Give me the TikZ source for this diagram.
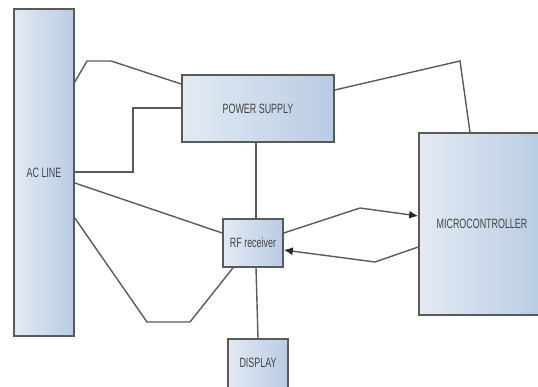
\documentclass[tikz,border=0pt]{standalone}
\usepackage{fontspec}
\setmainfont{Liberation Sans}[FakeStretch=0.66]
\usetikzlibrary{arrows.meta}
\definecolor{boxlight}{HTML}{E3EAF4}
\definecolor{boxdark}{HTML}{B9CCE3}
\definecolor{linegray}{HTML}{5A5A5A}
\definecolor{textgray}{HTML}{424242}

\begin{document}
\begin{tikzpicture}[x=1pt,y=-1pt,
    blk/.style={draw=linegray, line width=1.6pt, left color=boxlight, right color=boxdark,
      font=\fontsize{13.5}{15}\selectfont, text=textgray, inner sep=0pt},
    wire/.style={draw=linegray, line width=1.4pt},
    sig/.style={wire, -{Latex[length=9pt,width=8pt,color=black!85]}}]
            \useasboundingbox (0,0) rectangle (538,387);
            % blocks
            \node[blk, minimum width=60, minimum height=327] (ac) at (44,172.5) {AC LINE};
            \node[blk, minimum width=152, minimum height=67] (ps) at (258,108.5) {POWER SUPPLY};
            \node[blk, minimum width=126, minimum height=182] (mc) at (482,224) {MICROCONTROLLER};
            \node[blk, minimum width=60, minimum height=48] (rf) at (253,243) {RF receiver};
            \node[blk, minimum width=60, minimum height=50] (disp) at (258,364) {\raisebox{3pt}{DISPLAY}};
            % wiring
            \draw[wire] (ac.east |- 0,82) -- (87,61) -- (111,61) -- (ps.west |- 0,84);
            \draw[wire] (ac.east |- 0,172) -| (133,108) -- (ps.west |- 0,108);
            \draw[wire] (ps.east |- 0,90) -- (460,61) -- (mc.north -| 470,0);
            \draw[wire] (ps.south -| 256,0) -- (rf.north -| 256,0);
            \draw[wire] (ac.east |- 0,183) -- (rf.west |- 0,233);
            \draw[wire] (ac.east |- 0,218) -- (147,322) -- (190,322) -- (rf.south -| 233,0);
            \draw[wire] (rf.south -| 256,0) -- (disp.north -| 258,0);
            % signals
            \draw[sig] (rf.east |- 0,233) -- (360,208) -- (mc.west |- 0,216);
            \draw[sig] (mc.west |- 0,247) -- (375,262) -- (rf.east |- 0,250);
        \end{tikzpicture}
\end{document}
